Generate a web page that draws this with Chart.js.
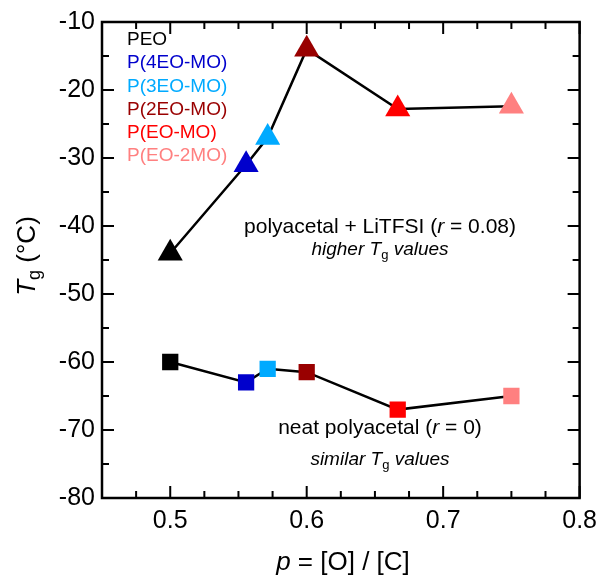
<!DOCTYPE html>
<html><head><meta charset="utf-8">
<script src="https://cdn.jsdelivr.net/npm/chart.js@4"></script>
<style>html,body{margin:0;padding:0;background:#fff}#w{width:605px;height:577px}</style>
</head><body><div id="w"><canvas id="c" width="605" height="577"></canvas></div>
<script>
const names = ["PEO","P(4EO-MO)","P(3EO-MO)","P(2EO-MO)","P(EO-MO)","P(EO-2MO)"];
const colors = ["#000000","#0000cc","#00aaff","#990000","#ff0000","#ff8080"];
const pValues = [0.5, 0.5556, 0.5714, 0.6, 0.6667, 0.75];
const tgSalt = [-44, -31, -27, -14, -22.8, -22.4];
const tgNeat = [-60, -63, -61, -61.5, -67, -65];
const xTicks = [0.5, 0.6, 0.7, 0.8];
const yTicks = [-80, -70, -60, -50, -40, -30, -20, -10];

const FONT = "'Liberation Sans', Arial, sans-serif";

const framePlugin = {
  id: 'frame',
  afterDraw(chart) {
    const ctx = chart.ctx, a = chart.chartArea;
    const xs = chart.scales.x, ys = chart.scales.y;
    ctx.save();
    ctx.strokeStyle = '#000'; ctx.lineWidth = 2.5;
    ctx.strokeRect(a.left, a.top, a.right - a.left, a.bottom - a.top);
    ctx.lineWidth = 2;
    ctx.beginPath();
    for (let v = 0.45; v <= 0.8001; v += 0.025) {
      const major = Math.abs(Math.round(v * 10) - v * 10) < 1e-6;
      const L = major ? 12 : 7;
      const px = xs.getPixelForValue(v);
      ctx.moveTo(px, a.bottom); ctx.lineTo(px, a.bottom - L);
      ctx.moveTo(px, a.top); ctx.lineTo(px, a.top + L);
    }
    for (let v = -80; v <= -10; v += 5) {
      const major = v % 10 === 0;
      const L = major ? 12 : 7;
      const py = ys.getPixelForValue(v);
      ctx.moveTo(a.left, py); ctx.lineTo(a.left + L, py);
      ctx.moveTo(a.right, py); ctx.lineTo(a.right - L, py);
    }
    ctx.stroke();

    // legend text
    ctx.textBaseline = 'middle'; ctx.textAlign = 'left';
    ctx.font = '19px ' + FONT;
    names.forEach((n, i) => { ctx.fillStyle = colors[i]; ctx.fillText(n, 127, 40 + i * 23.2); });

    function drawRich(parts, cx, cy) {
      let w = 0;
      parts.forEach(p => { ctx.font = p.f; p.w = ctx.measureText(p.t).width; w += p.w; });
      let x = cx - w / 2;
      ctx.textAlign = 'left';
      parts.forEach(p => { ctx.font = p.f; ctx.fillText(p.t, x, cy + (p.dy || 0)); x += p.w; });
    }
    ctx.fillStyle = '#000';
    const n21 = '21px ' + FONT, i21 = 'italic 21px ' + FONT;
    const i19 = 'italic 19px ' + FONT, s13 = '13px ' + FONT;
    drawRich([{t:'polyacetal + LiTFSI (', f:n21},{t:'r', f:i21},{t:' = 0.08)', f:n21}], 380, 227);
    drawRich([{t:'higher ', f:i19},{t:'T', f:i19},{t:'g', f:s13, dy:5},{t:' values', f:i19}], 380, 250);
    drawRich([{t:'neat polyacetal (', f:n21},{t:'r', f:i21},{t:' = 0)', f:n21}], 380, 428);
    drawRich([{t:'similar ', f:i19},{t:'T', f:i19},{t:'g', f:s13, dy:5},{t:' values', f:i19}], 380, 460);

    const n26 = '26px ' + FONT, i26 = 'italic 26px ' + FONT;
    drawRich([{t:'p', f:i26},{t:' = [O] / [C]', f:n26}], 343, 563);
    ctx.save();
    ctx.translate(28, 256); ctx.rotate(-Math.PI / 2);
    drawRich([{t:'T', f:i26},{t:'g', f:'18px ' + FONT, dy:7},{t:' (°C)', f:n26}], 0, 0);
    ctx.restore();
    ctx.restore();
  }
};

function pts(arr) { return pValues.map((p, i) => ({x: p, y: arr[i]})); }

new Chart(document.getElementById('c'), {
  type: 'line',
  data: {
    datasets: [
      { data: pts(tgSalt), borderColor: '#000', borderWidth: 2.5, pointStyle: 'triangle',
        pointRadius: 14.5, pointHoverRadius: 14.5, pointBackgroundColor: colors, pointBorderColor: colors, pointBorderWidth: 0, tension: 0 },
      { data: pts(tgNeat), borderColor: '#000', borderWidth: 2.5, pointStyle: 'rect',
        pointRadius: 11.5, pointHoverRadius: 11.5, pointBackgroundColor: colors, pointBorderColor: colors, pointBorderWidth: 0, tension: 0 }
    ]
  },
  options: {
    responsive: false, animation: false, events: [],
    layout: { padding: { top: 16, right: 20, left: 0, bottom: 0 } },
    plugins: { legend: { display: false }, tooltip: { enabled: false } },
    scales: {
      x: { type: 'linear', min: 0.45, max: 0.8,
        afterBuildTicks: s => { s.ticks = xTicks.map(v => ({value: v})); },
        afterFit: s => { s.height = 79; },
        grid: { display: false, drawTicks: false }, border: { display: false },
        ticks: { padding: 8, color: '#000', font: { size: 25, family: FONT }, callback: v => v.toFixed(1) } },
      y: { type: 'linear', min: -80, max: -10,
        afterBuildTicks: s => { s.ticks = yTicks.map(v => ({value: v})); },
        afterFit: s => { s.width = 102; },
        grid: { display: false, drawTicks: false }, border: { display: false },
        ticks: { padding: 7, color: '#000', font: { size: 25, family: FONT } } }
    }
  },
  plugins: [framePlugin]
});
</script></body></html>
